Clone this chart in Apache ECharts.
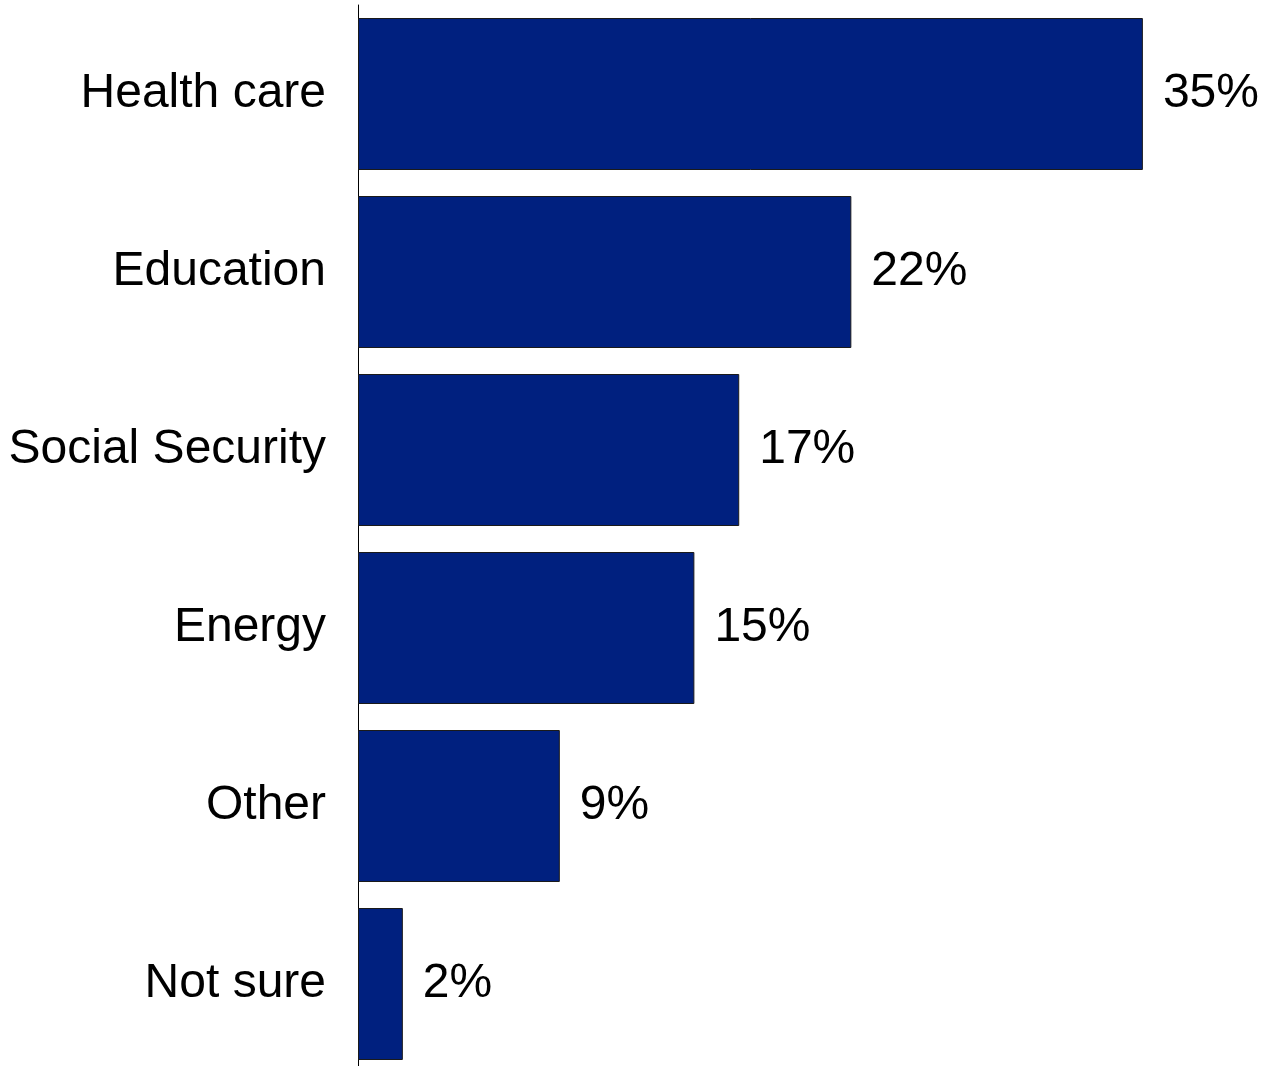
<!DOCTYPE html>
<html><head><meta charset="utf-8">
<script src="https://cdn.jsdelivr.net/npm/echarts@6/dist/echarts.min.js"></script>
<style>html,body{margin:0;padding:0;background:#fff;overflow:hidden}#c{width:1264px;height:1080px}</style>
</head><body><div id="c"></div>
<script>
const categories = ["Health care","Education","Social Security","Energy","Other","Not sure"];
const values = [35,22,17,15,9,2];
const chart = echarts.init(document.getElementById('c'));
chart.setOption({
  animation:false,
  grid:{left:358, top:5, width:897, height:1068, containLabel:false},
  xAxis:{type:'value', min:0, max:40, show:false},
  yAxis:{type:'category', data:categories, inverse:true,
    axisLine:{show:true, lineStyle:{color:'#000', width:1}},
    axisTick:{show:false},
    axisLabel:{fontFamily:'Liberation Sans, Arial', fontSize:48, color:'#000', margin:32, padding:[6,0,0,0]}},
  series:[{type:'bar', data:values, barWidth:152,
    itemStyle:{color:'#00207F', borderColor:'#1a1a1a', borderWidth:1},
    label:{show:true, position:'right', distance:20, formatter:'{c}%', padding:[6,0,0,0],
      fontFamily:'Liberation Sans, Arial', fontSize:48, color:'#000'}}]
});
</script></body></html>
